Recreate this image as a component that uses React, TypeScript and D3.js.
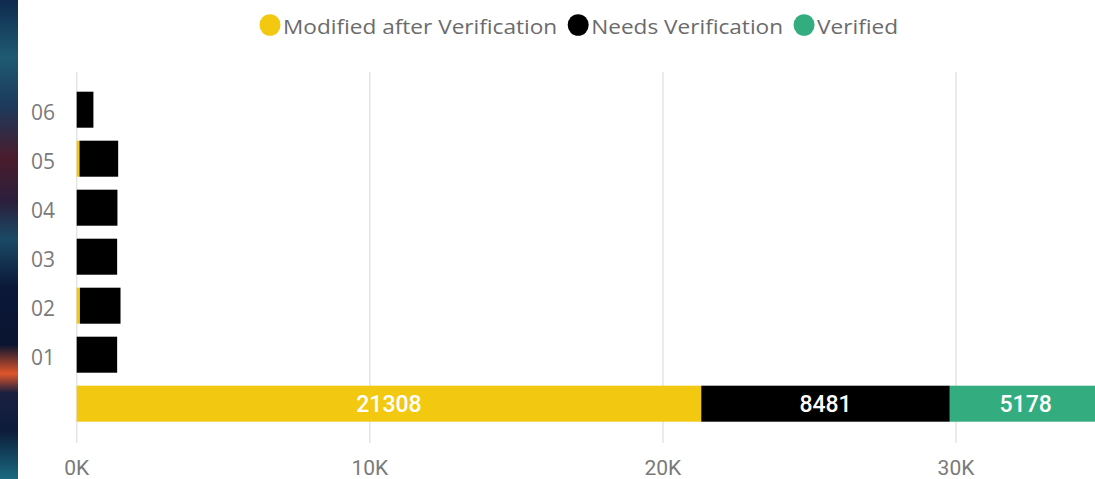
import React, { useEffect, useRef } from "react";
import * as d3 from "d3";

// rows top to bottom, last one is the total row with no label
const categories = ["06", "05", "04", "03", "02", "01", ""];
const modifiedVals = [0, 95, 0, 0, 110, 0, 21308];
const needsVals = [570, 1320, 1390, 1380, 1385, 1380, 8481];
const verifiedVals = [0, 0, 0, 0, 0, 0, 5178];

const seriesNames = ["Modified after Verification", "Needs Verification", "Verified"];
const seriesColors = ["#F2C811", "#000000", "#33AD7F"];
const xTicks = [0, 10000, 20000, 30000];

function App() {
  const svgRef = useRef<SVGSVGElement>(null);

  useEffect(() => {
    const width = 1095;
    const height = 479;

    const svg = d3.select(svgRef.current);
    svg.selectAll("*").remove();

    // left strip of the background picture
    const defs = svg.append("defs");
    const grad = defs.append("linearGradient")
      .attr("id", "strip")
      .attr("x1", 0).attr("y1", 0).attr("x2", 0).attr("y2", 1);
    [
      [0, "#0f2a4e"], [0.12, "#1f5a72"], [0.22, "#1c3a5c"], [0.33, "#4a1c2c"],
      [0.42, "#2b1f3c"], [0.5, "#1a4a66"], [0.6, "#0b1838"], [0.72, "#0a1530"],
      [0.78, "#e0552a"], [0.82, "#1a2040"], [0.9, "#0c1c3a"], [1, "#1a6a80"],
    ].forEach(([o, c]) => grad.append("stop").attr("offset", o as number).attr("stop-color", c as string));
    svg.append("rect").attr("x", 0).attr("y", 0).attr("width", 18).attr("height", height).attr("fill", "url(#strip)");

    const x = d3.scaleLinear().domain([0, 35000]).range([76.7, 76.7 + 35 * 29.31]);
    const y = d3.scaleBand<string>()
      .domain(categories.map((c, i) => String(i)))
      .range([85.2, 428.2])
      .paddingInner(0.265)
      .paddingOuter(0.1325);

    // gridlines
    svg.append("g")
      .selectAll("line")
      .data(xTicks)
      .join("line")
      .attr("x1", d => x(d)).attr("x2", d => x(d))
      .attr("y1", 72).attr("y2", 443)
      .attr("stroke", "#e4e4e4")
      .attr("stroke-width", 1.5);

    // x tick labels
    svg.append("g")
      .selectAll("text")
      .data(xTicks)
      .join("text")
      .attr("x", d => x(d))
      .attr("y", 475)
      .attr("text-anchor", "middle")
      .attr("font-family", "Roboto, sans-serif")
      .attr("font-size", 21)
      .attr("fill", "#7a7a7a")
      .text(d => `${d / 1000}K`);

    // y labels
    svg.append("g")
      .selectAll("text")
      .data(categories)
      .join("text")
      .attr("x", 55)
      .attr("y", (d, i) => (y(String(i)) as number) + y.bandwidth() / 2 + 2)
      .attr("text-anchor", "end")
      .attr("dominant-baseline", "central")
      .attr("font-family", "'Open Sans', sans-serif")
      .attr("font-size", 21)
      .attr("fill", "#7a7a7a")
      .text(d => d);

    // stack the three series
    const rows = categories.map((c, i) => ({
      key: String(i),
      m: modifiedVals[i],
      n: needsVals[i],
      v: verifiedVals[i],
    }));
    const stack = d3.stack<any>().keys(["m", "n", "v"]);
    const layers = stack(rows);

    layers.forEach((layer, li) => {
      const g = svg.append("g");
      g.selectAll("rect")
        .data(layer.filter(d => d[1] > d[0]))
        .join("rect")
        .attr("x", d => x(d[0]))
        .attr("y", d => y(d.data.key) as number)
        .attr("width", d => x(d[1]) - x(d[0]))
        .attr("height", y.bandwidth())
        .attr("fill", seriesColors[li]);

      // value labels for wide segments
      g.selectAll("text")
        .data(layer.filter(d => x(d[1]) - x(d[0]) > 60))
        .join("text")
        .attr("x", d => (x(d[0]) + x(d[1])) / 2)
        .attr("y", d => (y(d.data.key) as number) + y.bandwidth() / 2 + 1)
        .attr("text-anchor", "middle")
        .attr("dominant-baseline", "central")
        .attr("font-family", "Roboto, sans-serif")
        .attr("font-weight", 500)
        .attr("font-size", 23)
        .attr("fill", "#ffffff")
        .text(d => String(d[1] - d[0]));
    });

    // legend (text a bit wider than Open Sans, like the original font)
    const legend = svg.append("g");
    let cx = 270;
    seriesNames.forEach((name, i) => {
      legend.append("ellipse")
        .attr("cx", cx).attr("cy", 25)
        .attr("rx", 10.5).attr("ry", 10.8)
        .attr("fill", seriesColors[i]);
      const t = legend.append("text")
        .attr("x", cx + 13)
        .attr("y", 26)
        .attr("dominant-baseline", "central")
        .attr("font-family", "'Open Sans', sans-serif")
        .attr("font-size", 20)
        .attr("fill", "#6b6b6b")
        .text(name);
      const w = (t.node() as SVGTextElement).getComputedTextLength() * 1.13;
      t.attr("textLength", w).attr("lengthAdjust", "spacingAndGlyphs");
      cx = cx + 13 + w + 21;
    });

    svg.attr("width", width).attr("height", height);
  }, []);

  return (
    <div>
      <svg
        ref={svgRef}
        width={1095}
        height={479}
        style={{ position: "absolute", left: 0, top: 0, background: "#ffffff", overflow: "hidden" }}
      ></svg>
    </div>
  );
}

export default App;
